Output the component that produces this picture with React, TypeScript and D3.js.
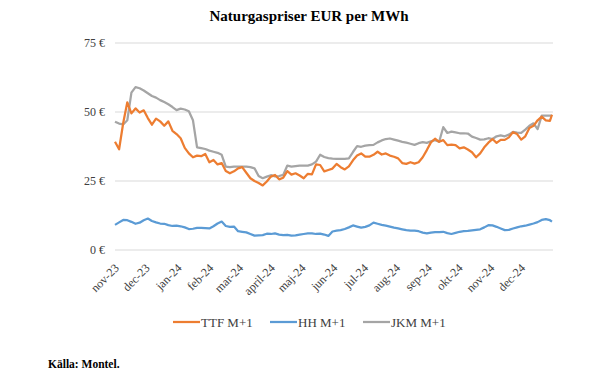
import React from "react";
import * as d3 from "d3";

const dates = [
  "2023-11-01","2023-11-05","2023-11-09","2023-11-13","2023-11-17","2023-11-21","2023-11-25","2023-11-29",
  "2023-12-03","2023-12-07","2023-12-11","2023-12-15","2023-12-19","2023-12-23","2023-12-27","2023-12-31",
  "2024-01-04","2024-01-08","2024-01-12","2024-01-16","2024-01-20","2024-01-24","2024-01-28","2024-02-01",
  "2024-02-05","2024-02-09","2024-02-13","2024-02-17","2024-02-21","2024-02-25","2024-02-29","2024-03-04",
  "2024-03-08","2024-03-12","2024-03-16","2024-03-20","2024-03-24","2024-03-28","2024-04-01","2024-04-05",
  "2024-04-09","2024-04-13","2024-04-17","2024-04-21","2024-04-25","2024-04-29","2024-05-03","2024-05-07",
  "2024-05-11","2024-05-15","2024-05-19","2024-05-23","2024-05-27","2024-05-31","2024-06-04","2024-06-08",
  "2024-06-12","2024-06-16","2024-06-20","2024-06-24","2024-06-28","2024-07-02","2024-07-06","2024-07-10",
  "2024-07-14","2024-07-18","2024-07-22","2024-07-26","2024-07-30","2024-08-03","2024-08-07","2024-08-11",
  "2024-08-15","2024-08-19","2024-08-23","2024-08-27","2024-08-31","2024-09-04","2024-09-08","2024-09-12",
  "2024-09-16","2024-09-20","2024-09-24","2024-09-28","2024-10-02","2024-10-06","2024-10-10","2024-10-14",
  "2024-10-18","2024-10-22","2024-10-26","2024-10-30","2024-11-03","2024-11-07","2024-11-11","2024-11-15",
  "2024-11-19","2024-11-23","2024-11-27","2024-12-01","2024-12-05","2024-12-09","2024-12-13","2024-12-17",
  "2024-12-21","2024-12-25","2024-12-29","2024-12-31"
];

const ttf = [
  39.2,36.5,46.0,53.5,49.5,51.3,49.8,50.6,47.8,45.4,47.6,46.6,45.0,46.6,43.2,42.0,
  40.5,37.0,35.0,33.6,34.2,34.0,34.8,31.8,32.6,31.0,31.5,28.6,27.8,28.5,29.6,30.0,
  28.0,26.0,25.0,24.3,23.4,24.8,26.6,27.2,25.6,26.2,28.6,27.3,27.8,27.0,26.0,27.6,
  27.4,31.0,30.8,28.5,29.0,29.5,31.2,30.0,29.2,30.3,32.5,34.2,35.0,33.8,33.8,34.5,
  35.6,34.6,35.0,34.2,33.8,33.2,31.5,31.2,31.8,31.3,31.8,33.6,36.2,39.0,40.3,39.2,
  39.8,38.0,38.2,38.0,36.8,37.2,36.4,35.4,33.6,35.0,37.2,38.9,40.2,38.8,39.9,39.9,
  40.8,42.7,42.0,40.0,41.2,44.2,45.0,47.0,48.3,47.0,46.8,49.0
];

const hh = [
  9.1,10.0,10.9,10.8,10.2,9.5,9.9,10.8,11.4,10.5,10.0,9.6,9.5,9.0,8.7,8.8,
  8.6,8.2,7.6,7.7,8.0,8.0,7.9,7.8,8.6,9.6,10.3,8.7,8.4,8.5,6.8,6.6,
  6.4,5.8,5.2,5.3,5.4,5.9,5.8,6.0,5.6,5.4,5.5,5.2,5.3,5.6,5.8,6.0,
  6.0,5.8,5.9,5.6,5.1,6.7,7.0,7.2,7.6,8.2,8.9,8.5,8.1,8.4,8.9,9.9,
  9.5,9.1,8.8,8.5,8.1,7.8,7.5,7.2,7.0,7.0,6.8,6.3,6.0,6.3,6.5,6.5,
  6.6,6.1,5.8,6.2,6.6,6.8,6.9,7.1,7.3,7.5,8.2,9.0,8.9,8.4,7.8,7.2,
  7.3,7.8,8.2,8.6,8.8,9.2,9.6,10.1,10.9,11.2,10.8,10.3
];

const jkm = [
  46.5,45.8,45.5,47.0,57.0,59.0,58.6,57.8,56.8,55.8,55.2,54.3,53.6,52.8,51.8,50.7,
  51.2,50.9,50.3,47.0,37.2,36.9,36.6,36.0,35.6,35.2,34.5,30.2,30.0,30.2,30.2,30.2,
  30.2,30.0,29.6,26.8,26.0,26.6,27.1,26.7,26.8,27.2,30.6,30.2,30.4,30.6,30.6,30.6,
  31.0,32.0,34.5,33.7,33.3,33.1,33.0,33.0,33.0,33.2,35.5,37.6,37.4,37.8,38.0,38.1,
  39.0,39.7,40.2,40.4,40.0,39.6,39.2,38.9,38.5,38.1,38.7,39.1,38.8,39.4,39.8,39.2,
  44.5,42.4,42.9,42.6,42.3,42.3,42.2,41.1,40.6,40.0,40.1,40.5,40.2,41.2,41.5,41.2,
  41.8,42.8,42.5,42.4,43.6,45.0,45.9,43.8,48.7,48.7,48.7,48.7
];

const monthTicks = [
  "2023-11-01","2023-12-01","2024-01-01","2024-02-01","2024-03-01","2024-04-01","2024-05-01",
  "2024-06-01","2024-07-01","2024-08-01","2024-09-01","2024-10-01","2024-11-01","2024-12-01"
];
const monthLabels = [
  "nov-23","dec-23","jan-24","feb-24","mar-24","april-24","maj-24",
  "jun-24","jul-24","aug-24","sep-24","okt-24","nov-24","dec-24"
];
const yTicks = [0, 25, 50, 75];

const seriesNames = ["TTF M+1", "HH M+1", "JKM M+1"];
const seriesColors = ["#ED7D31", "#5B9BD5", "#A5A5A5"];

const W = 607;
const H = 378;
const FONT = "Liberation Serif";

export default function App() {
  const parse = d3.utcParse("%Y-%m-%d");
  const x = d3
    .scaleUtc()
    .domain([parse("2023-11-01")!, parse("2025-01-01")!])
    .range([115, 553]);
  const y = d3.scaleLinear().domain([0, 75]).range([250, 43]);

  const dts = dates.map((d) => parse(d)!);
  const allSeries = [ttf, hh, jkm];
  const line = d3
    .line<number>()
    .x((_, i) => x(dts[i]))
    .y((v) => y(v))
    .curve(d3.curveLinear);

  const drawOrder = [1, 2, 0];
  const legendX = [173, 270, 363];

  return (
    <svg
      width={W}
      height={H}
      style={{ position: "absolute", left: 0, top: 0, background: "#fff", fontFamily: FONT }}
    >
      <rect width={W} height={H} fill="#fff" />
      <text x={309} y={21} textAnchor="middle" fontSize={15} fontWeight="bold" fill="#000" fontFamily={FONT}>
        Naturgaspriser EUR per MWh
      </text>
      {yTicks.map((t) => (
        <g key={t}>
          <line x1={115} x2={553} y1={y(t)} y2={y(t)} stroke="#D9D9D9" strokeWidth={1} />
          <text x={105} y={y(t)} textAnchor="end" dominantBaseline="central" fontSize={12} fill="#404040" fontFamily={FONT}>
            {t} €
          </text>
        </g>
      ))}
      {monthTicks.map((m, i) => {
        const tx = x(parse(m)!);
        return (
          <text
            key={m}
            transform={`translate(${tx + 2},${266}) rotate(-45)`}
            textAnchor="end"
            dominantBaseline="central"
            fontSize={12}
            fill="#404040"
            fontFamily={FONT}
          >
            {monthLabels[i]}
          </text>
        );
      })}
      {drawOrder.map((si) => (
        <path
          key={si}
          d={line(allSeries[si]) || ""}
          fill="none"
          stroke={seriesColors[si]}
          strokeWidth={2.25}
          strokeLinejoin="round"
        />
      ))}
      {seriesNames.map((n, i) => (
        <g key={n}>
          <line x1={legendX[i]} x2={legendX[i] + 27} y1={322} y2={322} stroke={seriesColors[i]} strokeWidth={2.25} />
          <text x={legendX[i] + 28} y={322} dominantBaseline="central" fontSize={13} fill="#404040" fontFamily={FONT}>
            {n}
          </text>
        </g>
      ))}
      <text x={48} y={364} dominantBaseline="central" fontSize={11.5} fontWeight="bold" fill="#000" fontFamily={FONT}>
        Källa: Montel.
      </text>
    </svg>
  );
}
